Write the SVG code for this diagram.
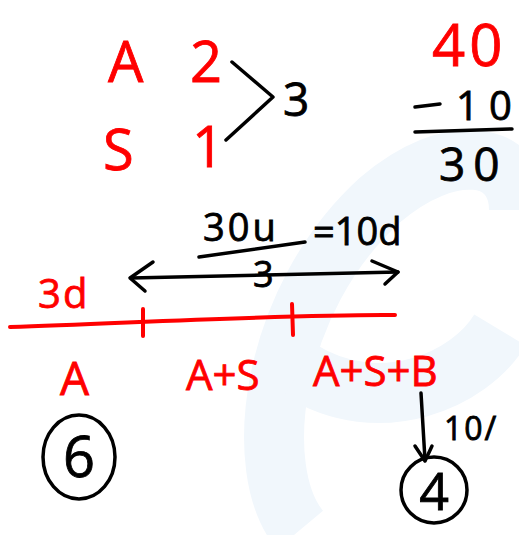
<svg xmlns="http://www.w3.org/2000/svg" width="519" height="535" viewBox="0 0 519 535">
<style>
.r{fill:#f00;stroke:#f00;stroke-width:0.8;font-family:"Open Sans","Liberation Sans",sans-serif;}
.k{fill:#000;stroke:#000;stroke-width:0.8;font-family:"Open Sans","Liberation Sans",sans-serif;}
.rs{stroke:#f00;stroke-width:4;fill:none;stroke-linecap:round;stroke-linejoin:round;}
.ks{stroke:#000;stroke-width:3.5;fill:none;stroke-linecap:round;stroke-linejoin:round;}
.wm{fill:none;stroke:#f1f7fc;stroke-width:60;}
</style>
<rect width="519" height="535" fill="#fff"/>
<g id="watermark">
<path class="wm" d="M300,530 C250,470 270,300 380,200 C450,140 519,150 519,210"/>
<path class="wm" d="M300,370 C380,420 470,380 500,330" stroke-width="40"/>
</g>
<g id="ratio">
<text class="r" x="108" y="82" font-size="56">A</text>
<text class="r" x="190" y="82" font-size="56">2</text>
<text class="r" x="103" y="170" font-size="56">S</text>
<text class="r" x="192" y="167" font-size="56">1</text>
<path class="ks" d="M232,62 L273,97 L226,140"/>
<text class="k" x="283" y="116" font-size="46">3</text>
</g>
<g id="subtraction">
<text class="r" x="432" y="66" font-size="58" font-family="Liberation Sans, sans-serif">4<tspan dx="4">0</tspan></text>
<path class="ks" d="M415,107 L440,104"/>
<text class="k" x="456" y="120" font-size="40">1<tspan dx="10">0</tspan></text>
<path class="ks" d="M415,132 L512,129"/>
<text class="k" x="439" y="181" font-size="46">3<tspan dx="8">0</tspan></text>
</g>
<g id="fraction">
<text class="k" x="203" y="241" font-size="38">3<tspan dx="3">0</tspan><tspan dx="3">u</tspan></text>
<text class="k" x="313" y="245" font-size="38">=10d</text>
<path class="ks" d="M199,257 L305,242"/>
<text class="k" x="253" y="287" font-size="36">3</text>
</g>
<g id="connectors">
<path class="ks" d="M131,278 L398,272"/>
<path class="ks" d="M153,262 L130,278 L145,291"/>
<path class="ks" d="M372,261 L398,272 L385,284"/>
<path class="rs" d="M10,327 C150,322 300,314 395,315"/>
<path class="rs" d="M143,309 L143,336"/>
<path class="rs" d="M292,304 L293,335"/>
<path class="ks" d="M421,393 L425,460"/>
<path class="ks" d="M415,446 L425,461 L432,446"/>
</g>
<g id="label-3d"><text class="r" x="38" y="308" font-size="40">3<tspan dx="2">d</tspan></text></g>
<g id="label-A"><text class="r" x="60" y="395" font-size="46">A</text></g>
<g id="label-AS"><text class="r" x="186" y="390" font-size="42">A+S</text></g>
<g id="label-ASB"><text class="r" x="313" y="386" font-size="42">A+S+B</text></g>
<g id="label-10"><text class="k" x="444" y="440" font-size="32">1<tspan dx="2">0</tspan><tspan dx="2">/</tspan></text></g>
<g id="circle-6">
<ellipse cx="79" cy="457" rx="36" ry="42" class="ks"/>
<text class="k" x="79" y="477" font-size="56" text-anchor="middle">6</text>
</g>
<g id="circle-4">
<ellipse cx="434" cy="490" rx="33" ry="33" class="ks"/>
<text class="k" x="434" y="510" font-size="52" text-anchor="middle">4</text>
</g>
</svg>
